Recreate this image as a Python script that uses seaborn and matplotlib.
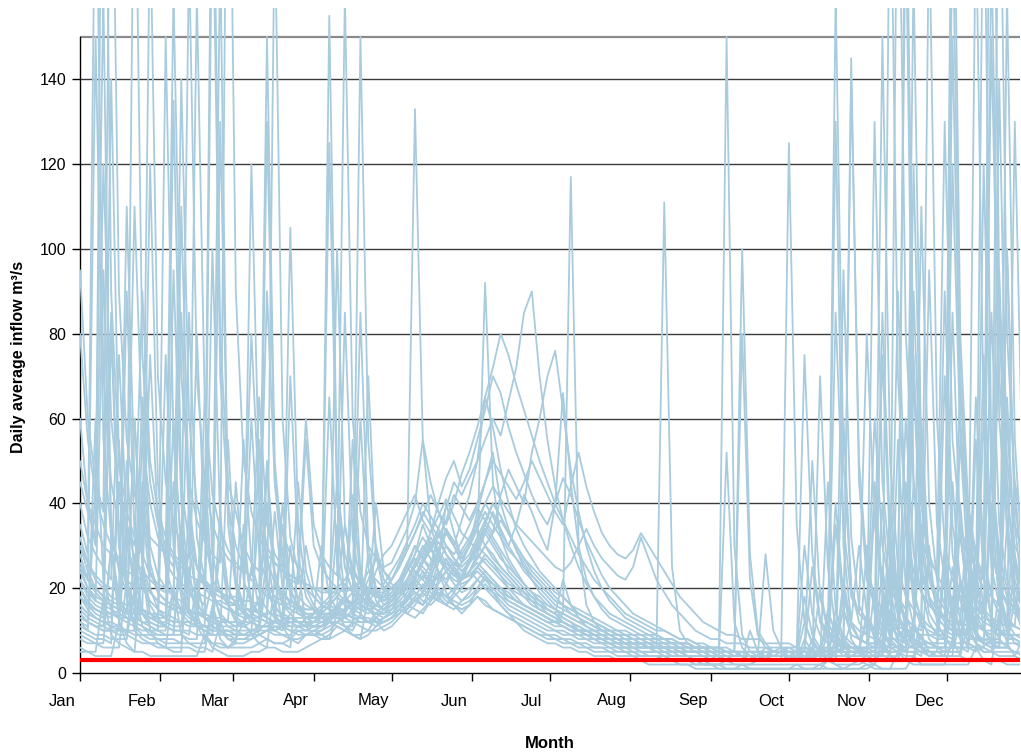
import numpy as np
import pandas as pd
import matplotlib
matplotlib.use("Agg")
import matplotlib.pyplot as plt
import seaborn as sns

# sampling days (every 3 days through the year)
days = list(range(0, 364, 3))

# daily-average inflow series (m3/s), one list per year, values read approximately
y01 = [12,10,45,160,30,18,14,60,25,16, 13,11,95,40,20,15,13,22,170,35, 20,15,13,12,48,22,16,14,12,11,
       14,30,18,15,13,55,24,18,16,15, 17,20,24,28,35,30,26,40,33,27, 30,38,45,52,40,34,29,25,22,19,
       17,15,13,12,10,9,8,8,7,6, 6,5,5,4,4,4,3,3,3,3, 3,2,2,3,2,2,2,3,4,3,
       3,4,3,8,5,4,15,9,6,12, 30,14,10,75,28,18,180,45,25,18, 15,90,35,22,16,14,200,50,28,20,16,14]
y02 = [35,28,200,70,45,35,30,110,55,40, 32,28,25,140,60,40,32,210,80,45, 38,30,26,24,90,45,33,28,25,60,
       35,28,25,23,160,60,38,30,27,25, 26,30,34,40,55,45,38,33,30,36, 42,50,65,58,48,40,34,30,27,24,
       22,20,18,16,14,13,12,11,10,9, 9,8,8,7,7,6,6,6,5,5, 5,5,4,4,4,5,4,4,4,4,
       5,6,5,5,25,12,8,40,18,12, 10,9,130,45,25,18,15,90,40,24, 18,15,220,80,40,28,22,150,60,35,25,20]
y03 = [6,5,5,18,9,7,6,5,25,10, 7,6,5,5,40,14,9,7,6,6, 8,12,9,7,6,22,11,8,7,9,
       10,9,8,14,11,9,8,18,12,10, 11,13,15,18,16,20,24,19,16,14, 16,20,23,19,16,14,12,10,9,8,
       7,7,6,6,5,5,4,4,4,3, 3,3,3,2,2,2,2,2,2,1, 1,1,1,1,1,2,1,1,1,1,
       1,1,2,1,1,1,3,2,1,2, 2,3,2,8,4,3,3,12,6,4, 5,4,18,9,6,5,30,12,8,6,5,5]
y04 = [20,16,14,13,85,30,20,16,14,120, 45,25,18,15,13,12,65,28,19,16, 14,55,26,19,150,50,28,21,18,16,
       15,14,125,40,25,19,17,16,30,22, 20,22,25,30,27,24,33,28,25,23, 26,30,92,45,32,27,24,21,19,17,
       15,14,12,11,10,9,8,8,7,7, 6,6,5,5,5,4,4,4,4,3, 3,3,3,52,12,6,4,3,3,3,
       3,4,3,3,6,4,4,130,30,12, 8,7,6,40,16,10,8,165,50,24, 16,13,11,70,30,18,14,12,95,35,20,15]
y05 = [9,8,7,7,30,12,9,8,7,7, 6,6,20,9,7,6,6,5,12,8, 7,7,8,9,10,12,11,14,16,13,
       14,16,18,20,22,25,21,19,24,28, 30,34,38,42,36,33,40,46,50,44, 48,55,62,70,66,58,52,47,42,38,
       35,40,46,42,36,31,27,23,20,18, 16,14,13,12,11,10,9,8,8,7, 6,6,5,5,5,4,4,4,4,4,
       4,4,5,4,4,5,6,5,9,7, 6,12,9,7,25,14,10,9,35,18, 13,11,10,22,15,12,60,25,16,13,11,10]
y06 = [14,12,11,10,10,45,20,14,12,11, 10,75,30,18,14,12,11,10,130,40, 22,16,14,13,12,12,35,18,14,13,
       12,12,13,16,14,42,22,17,15,14, 16,18,20,23,26,29,33,30,28,31, 35,39,36,33,42,48,44,40,52,60,
       70,76,62,48,38,30,24,20,17,15, 13,12,11,10,9,8,8,7,7,6, 6,5,5,5,4,4,4,4,5,4,
       4,5,4,18,9,6,5,5,22,11, 8,7,45,20,12,10,9,8,110,40, 22,16,13,12,11,180,60,30,20,16,14,12]
y07 = [60,40,30,250,90,50,38,32,28,180, 70,45,36,30,27,160,65,42,34,29, 26,24,80,40,30,26,24,22,21,55,
       30,25,22,20,19,20,18,17,40,24, 21,20,22,25,28,32,29,26,24,22, 24,27,30,28,25,23,21,19,17,16,
       14,13,12,11,10,10,9,8,8,7, 7,6,6,6,5,5,5,4,4,4, 4,4,3,3,3,3,3,4,3,3,
       3,3,4,12,7,5,4,160,50,20, 14,12,60,30,20,16,200,70,40,28, 23,20,120,55,35,27,23,250,90,50,35,28]
y08 = [18,15,13,12,11,10,50,22,15,13, 12,11,10,28,15,12,11,100,35,20, 16,14,13,18,15,13,12,70,28,18,
       15,13,12,12,14,17,85,30,20,17, 18,20,17,22,26,30,24,21,19,22, 26,30,34,31,28,24,22,20,18,16,
       15,14,22,16,13,11,10,9,8,8, 7,7,6,6,6,5,5,5,4,4, 4,4,4,3,3,3,3,3,3,3,
       3,3,3,4,3,3,10,6,4,4, 5,4,20,10,7,6,5,70,25,14, 11,9,8,40,18,12,10,9,140,45,22,15]
y09 = [25,20,17,95,35,24,19,17,15,14, 14,13,60,27,19,16,14,13,12,12, 45,22,16,14,13,12,12,105,35,20,
       16,14,13,13,12,12,60,25,17,15, 14,16,18,21,19,17,22,27,24,20, 22,25,28,26,23,20,18,16,15,14,
       13,12,14,117,30,16,12,10,9,8, 8,7,7,6,6,111,25,10,7,6, 5,5,4,4,4,4,3,3,3,3,
       3,3,3,3,8,5,4,3,3,4, 4,4,3,16,8,6,5,45,20,12, 9,8,7,7,30,14,10,8,8,60,25,15]
y10 = [10,9,8,8,7,55,18,11,9,8, 8,7,7,7,25,11,8,7,7,6, 7,35,14,9,8,7,7,8,10,9,
       9,9,10,12,11,10,14,12,11,13, 15,17,14,16,19,22,18,16,15,17, 19,22,20,18,16,14,13,12,11,10,
       9,9,8,8,7,7,6,6,6,5, 5,5,4,4,4,4,3,3,3,3, 3,3,3,150,30,9,5,4,3,3,
       3,3,3,3,4,3,3,3,20,8, 5,4,4,4,15,7,5,5,4,30, 12,8,6,6,5,25,10,7,6,6,18,9]
y11 = [30,24,20,18,140,50,30,24,21,19, 17,16,15,14,85,32,22,18,16,15, 14,13,13,40,20,15,14,13,12,12,
       11,11,12,35,18,14,13,12,12,13, 14,15,17,19,17,16,18,21,19,17, 18,20,22,20,18,16,15,14,13,12,
       11,10,10,9,9,8,8,7,7,6, 6,6,5,5,5,5,4,4,4,4, 4,3,3,3,3,3,10,5,4,3,
       3,125,35,12,7,5,4,4,60,20, 12,9,8,150,50,25,18,15,13,95, 35,22,17,15,14,13,75,30,20,17,15,14]
y12 = [40,32,28,25,22,75,35,27,24,22, 20,19,135,45,30,25,22,20,19,18, 17,17,60,28,21,18,17,16,15,30,
       20,17,16,15,15,16,18,17,16,15, 16,18,21,24,22,20,26,30,27,24, 26,29,33,38,34,30,27,24,22,20,
       18,16,15,14,13,12,11,10,10,9, 9,8,8,8,7,7,7,6,6,6, 6,5,5,5,5,4,4,4,4,5,
       6,5,5,30,14,9,7,85,35,18, 14,80,35,22,18,210,80,45,32,26, 24,130,55,35,28,25,23,170,70,40,30,26]
y13 = [15,13,12,11,30,16,13,12,11,10, 10,10,45,20,14,12,11,11,10,10, 9,9,10,10,130,45,25,19,16,14,
       13,12,12,100,35,22,18,16,15,14, 15,18,22,26,24,22,28,33,30,26, 28,32,36,40,37,33,29,26,23,21,
       19,17,16,14,13,12,11,10,9,9, 8,8,7,7,7,6,6,6,5,5, 5,5,4,4,4,4,4,4,4,4,
       4,4,4,4,5,4,4,5,6,5, 5,6,5,5,40,18,11,8,7,6, 6,6,45,20,12,9,8,7,7,100,35,18]
y14 = [12,11,60,22,15,13,12,11,10,10, 9,9,9,30,14,11,10,9,9,55, 22,14,12,11,11,10,11,12,11,10,
       11,12,13,15,17,19,22,20,18,21, 24,27,31,35,40,37,34,39,45,42, 46,50,55,60,56,64,72,85,90,70,
       55,44,36,30,25,21,18,16,14,13, 12,11,10,9,9,8,8,7,7,6, 6,6,5,5,5,5,4,4,4,4,
       4,4,4,5,4,4,4,12,7,5, 5,5,4,4,20,10,7,6,5,5, 5,25,12,8,7,6,6,50,20,12,9,8]
y15 = [22,18,16,15,14,13,90,32,20,17, 15,14,13,12,12,11,40,19,14,12, 11,11,12,11,28,16,13,12,12,11,
       12,13,155,45,25,19,16,15,14,14, 15,17,19,22,20,18,17,21,25,22, 24,26,24,22,20,18,17,16,15,14,
       13,12,11,10,10,9,9,8,8,7, 7,6,6,6,5,5,5,5,4,4, 4,4,4,3,3,3,3,3,3,3,
       3,3,3,3,3,70,25,10,6,5, 5,4,4,4,4,55,20,11,8,7, 6,6,6,35,14,9,7,7,6,160,55,25]
y16 = [80,55,42,35,30,27,25,210,75,45, 35,30,27,25,23,22,21,20,19,18, 18,17,17,16,40,22,18,17,16,15,
       15,14,14,13,13,14,16,15,14,13, 14,16,15,17,19,22,20,18,17,16, 17,19,21,19,17,15,14,13,12,11,
       10,10,9,9,8,8,7,7,7,6, 6,6,5,5,5,5,4,4,4,4, 4,3,3,3,3,3,3,3,3,3,
       3,3,3,3,3,3,4,3,3,3, 3,4,4,10,6,5,4,4,14,8, 6,5,5,5,20,10,7,6,6,35,15,10]
y17 = [28,22,19,17,16,15,14,60,26,19, 17,16,15,110,40,25,20,18,16,15, 14,14,13,13,50,24,17,15,14,13,
       13,14,16,18,16,15,14,28,19,16, 17,19,22,26,30,27,24,22,25,29, 32,36,40,37,33,30,35,42,38,33,
       29,40,66,45,30,22,18,15,13,12, 11,10,9,9,8,8,7,7,6,6, 6,5,5,5,5,100,28,10,7,5,
       5,5,5,6,5,5,5,35,15,9, 8,7,7,85,32,18,13,11,10,180, 60,30,22,18,16,15,14,85,35,22,18,16]
y18 = [8,7,7,6,6,6,22,10,8,7, 7,6,6,6,6,5,5,15,8,6, 6,6,6,7,8,7,7,6,25,11,
       9,8,8,9,10,12,11,10,10,11, 12,14,16,15,14,17,20,18,16,15, 16,18,16,15,14,13,12,11,10,9,
       9,8,8,7,7,6,6,6,5,5, 5,4,4,4,4,3,3,3,3,3, 2,2,2,2,2,2,2,2,2,2,
       2,2,2,2,2,2,3,2,2,2, 3,2,2,6,4,3,3,3,9,5, 4,4,4,4,12,7,5,5,4,4,4,8]
y19 = [45,38,32,120,60,42,35,30,90,50, 38,32,28,26,170,70,45,35,30,27, 25,24,23,65,35,28,25,23,22,21,
       20,19,19,45,28,22,20,19,18,18, 19,21,24,28,32,29,27,25,23,22, 24,28,33,30,27,25,23,21,19,18,
       16,15,14,13,12,11,10,10,9,8, 8,8,7,7,6,6,6,5,5,5, 5,4,4,4,4,4,4,3,3,3,
       3,3,4,3,3,3,3,8,5,4, 4,30,14,9,7,6,5,120,45,22, 16,13,11,10,9,65,28,18,14,12,11,10]
y20 = [16,14,13,12,12,11,35,18,14,12, 11,11,10,10,9,22,13,11,10,9, 9,9,9,55,22,14,11,10,9,9,
       9,10,12,11,10,9,9,10,13,12, 13,15,18,21,24,20,18,16,19,23, 27,31,35,32,29,26,23,21,19,17,
       15,14,12,11,10,9,8,7,6,6, 5,5,4,4,4,3,3,3,3,2, 2,2,2,1,1,1,1,1,1,1,
       1,1,1,1,1,2,1,1,1,1, 1,2,1,1,1,5,3,2,2,2, 2,2,8,4,3,3,3,2,15,7,4,3]
y21 = [20,17,15,14,13,45,22,16,14,13, 12,12,11,11,30,17,13,12,11,11, 11,12,14,13,12,180,60,32,24,20,
       18,16,15,14,14,13,13,70,28,19, 17,18,20,22,26,30,34,30,27,25, 27,30,28,26,24,22,20,18,17,15,
       14,13,12,11,10,10,9,9,8,8, 7,7,7,6,6,6,5,5,5,5, 4,4,4,4,4,4,3,3,3,3,
       3,3,3,3,3,3,45,15,8,6, 5,5,5,25,12,8,7,6,60,25, 15,12,10,9,9,8,120,45,25,18,15,13]
y22 = [14,12,11,10,10,9,9,28,14,11, 10,9,9,9,8,8,48,20,13,11, 10,9,9,9,10,11,10,30,16,12,
       11,11,13,16,14,13,12,12,14,16, 18,21,25,22,20,24,29,34,30,27, 30,34,30,27,25,23,21,19,17,16,
       15,14,13,12,11,10,10,9,9,8, 8,7,7,7,6,6,6,6,5,5, 5,5,5,4,4,4,4,4,6,5,
       5,4,4,4,4,4,4,4,4,4, 4,5,5,4,200,70,35,24,19,16, 14,13,12,12,40,20,15,13,12,11,11,35]
y23 = [18,16,15,14,80,30,20,17,15,14, 13,150,55,30,22,18,16,190,70,40, 30,25,22,20,18,17,16,15,45,24,
       18,16,15,14,14,13,13,13,12,12, 13,14,16,18,21,19,17,16,18,20, 22,25,23,21,19,17,16,15,14,13,
       12,11,11,10,9,9,8,8,7,7, 7,6,6,6,5,5,5,5,4,4, 4,4,4,4,3,3,3,3,3,3,
       3,3,3,3,3,3,3,3,3,3, 3,3,3,3,4,3,10,6,5,4, 4,4,4,22,10,7,6,5,5,5,5,4]
y24 = [11,10,9,9,8,8,8,20,11,9, 8,8,8,7,7,7,7,16,10,8, 8,8,9,10,12,10,9,9,11,13,
       14,15,17,19,17,16,20,24,22,20, 22,25,29,33,37,42,38,35,40,47, 52,58,65,72,80,75,68,62,56,50,
       45,40,36,32,28,25,22,20,18,16, 14,13,12,11,10,10,9,8,8,7, 7,6,6,6,5,5,5,5,5,4,
       4,4,4,4,5,4,4,4,4,5, 5,4,4,4,4,4,14,8,6,5, 5,5,5,5,18,9,7,6,6,6,28,12]
y25 = [25,22,150,55,32,25,22,20,65,30, 23,20,18,17,16,80,32,22,19,17, 16,15,15,14,14,38,20,16,15,14,
       14,14,65,26,18,16,15,15,16,18, 20,22,26,24,22,26,31,28,26,24, 26,28,26,24,22,20,19,18,16,15,
       14,13,12,11,11,10,9,9,8,8, 7,7,7,6,6,6,5,5,5,5, 5,5,4,4,4,4,4,4,4,4,
       4,4,4,4,4,6,5,4,95,32, 16,12,10,9,8,8,35,16,11,10, 9,70,28,17,13,11,10,10,9,9,45,20]
y26 = [16,14,13,12,11,11,10,10,25,14, 12,11,10,10,10,9,9,9,38,16, 12,11,10,10,10,10,11,13,12,11,
       12,14,16,18,16,15,17,20,18,17, 19,22,26,30,27,25,29,34,31,28, 31,35,40,44,41,38,35,33,31,29,
       27,25,24,26,30,34,30,27,25,23, 22,25,32,27,22,19,16,14,12,10, 9,8,8,7,7,7,6,6,6,6,
       6,6,6,5,5,5,12,8,6,6, 6,5,5,18,9,7,6,6,6,5, 5,5,5,12,7,6,5,5,20,10,7,6]
y27 = [32,26,22,20,18,17,16,16,45,24, 19,17,16,15,15,14,14,13,13,12, 12,30,17,14,13,12,12,11,11,11,
       11,11,12,12,11,11,25,15,13,12, 13,15,17,20,23,21,19,18,20,22, 24,22,20,19,18,17,16,15,14,13,
       12,12,11,10,10,9,9,8,8,7, 7,7,6,6,6,6,5,5,5,5, 5,4,4,4,4,4,4,4,28,10,
       6,5,5,75,28,13,9,7,6,140, 50,25,18,15,13,12,60,28,19,16, 14,13,150,60,32,24,20,18,16,100,40,24]
y28 = [5,5,4,4,4,12,7,5,5,4, 4,4,4,4,4,4,9,6,5,4, 4,4,5,5,6,6,5,5,5,6,
       7,8,9,11,10,9,8,9,11,12, 13,15,14,13,15,17,19,17,16,15, 16,18,17,15,14,13,12,11,10,9,
       8,8,7,7,6,6,5,5,5,4, 4,4,3,3,3,3,3,2,2,2, 2,2,1,1,1,1,1,1,1,1,
       1,1,1,1,1,1,1,1,1,1, 1,1,2,1,1,1,1,4,2,2, 2,2,2,2,2,6,3,3,3,2,2,2]
y29 = [22,19,17,16,15,14,13,13,12,12, 11,11,20,14,12,11,10,10,10,10, 9,9,9,10,22,13,11,10,10,10,
       10,10,11,12,13,15,150,55,28,20, 18,20,22,25,29,33,37,41,37,33, 31,29,35,40,37,33,30,27,24,22,
       20,18,16,15,14,13,12,11,10,9, 9,8,8,7,7,7,6,6,6,5, 5,5,5,5,4,4,4,4,4,4,
       4,4,4,4,4,4,4,5,5,5, 5,5,5,5,5,5,5,5,5,5, 5,5,6,6,6,55,22,13,10,8,8,7]
y30 = [30,26,23,21,20,19,110,45,28,23, 21,20,19,85,35,25,21,19,18,17, 16,16,120,45,27,21,19,17,16,15,
       15,14,14,14,85,32,21,17,16,15, 16,18,20,23,27,31,28,25,23,22, 24,27,30,33,36,33,30,27,25,23,
       21,19,18,16,15,14,13,12,11,10, 10,9,9,8,8,8,7,7,7,6, 6,6,6,5,5,5,5,5,5,5,
       5,5,5,5,50,18,10,8,7,6, 6,6,6,6,28,13,9,8,7,7, 7,30,14,10,8,8,7,7,85,32,18,13]
y31 = [50,40,35,30,28,26,24,23,22,75, 35,26,23,21,20,19,18,17,17,16, 16,15,15,14,14,14,13,13,13,13,
       13,13,13,14,15,17,16,15,14,14, 15,16,18,17,16,18,21,24,21,19, 20,22,24,22,20,19,17,16,15,14,
       13,12,12,11,10,10,9,9,8,8, 7,7,7,6,6,6,6,5,5,5, 5,5,4,4,4,4,4,4,4,4,
       4,4,4,4,4,4,4,4,4,4, 5,14,8,6,5,5,45,20,12,9, 8,8,180,70,38,27,22,20,210,80,45,35]
y32 = [13,12,11,11,10,10,10,9,9,9, 9,9,9,35,15,11,10,9,9,9, 8,8,8,9,10,9,9,8,8,9,
       10,11,13,15,18,16,15,14,16,19, 22,26,30,133,55,35,28,25,23,26, 30,34,38,35,32,29,27,25,23,21,
       19,17,16,15,14,13,12,11,10,10, 9,9,8,8,8,7,7,7,6,6, 6,6,6,5,5,5,5,5,5,5,
       5,5,5,5,5,5,5,6,5,5, 5,5,5,5,5,22,10,7,6,6, 6,6,6,6,6,6,6,40,16,10,8,7]
y33 = [95,60,45,38,220,90,55,42,36,32, 30,28,160,70,45,36,31,28,26,240, 90,50,38,32,28,26,24,23,22,21,
       20,20,19,19,35,24,21,20,19,19, 20,22,24,27,25,23,22,24,26,24, 23,25,27,25,23,21,20,19,18,17,
       16,15,14,13,12,12,11,10,10,9, 9,8,8,8,7,7,7,6,6,6, 6,6,5,5,5,5,5,5,5,5,
       5,5,5,5,5,20,10,7,6,6, 6,6,6,6,6,90,35,18,13,11, 10,10,9,9,9,30,15,11,10,9,9,9]
y34 = [18,16,15,14,14,13,13,12,40,20, 15,13,12,12,11,11,11,10,10,10, 10,10,10,11,11,12,40,20,15,13,
       13,14,16,18,21,19,18,22,27,24, 22,25,29,33,38,35,32,36,42,39, 36,40,45,50,47,44,41,45,50,46,
       42,38,35,44,52,44,38,33,30,28, 27,29,33,30,27,24,21,18,16,14, 12,11,10,9,9,8,8,8,7,7,
       7,7,6,6,6,6,6,6,15,9, 8,7,7,7,6,6,6,12,8,7, 7,7,25,12,9,8,8,8,7,7,7,7]
y35 = [24,20,18,17,16,15,14,14,55,26, 19,17,16,15,14,14,13,13,12,12, 12,12,25,15,13,12,12,12,12,12,
       12,13,14,16,18,16,15,17,19,18, 17,19,21,19,18,20,23,26,24,22, 23,25,23,21,20,18,17,16,15,14,
       13,12,12,11,10,10,9,9,8,8, 7,7,7,6,6,6,6,5,5,5, 5,5,5,5,5,80,22,9,6,5,
       5,5,5,5,5,5,5,5,5,145, 45,22,16,13,12,11,10,10,9,9, 9,9,85,32,18,14,12,11,10,10,130,45]
y36 = [26,22,20,18,17,16,15,14,14,13, 13,13,12,12,12,11,11,11,30,16, 13,12,12,11,11,11,11,11,11,11,
       11,11,12,14,13,12,12,12,13,15, 17,20,18,17,19,23,27,24,22,21, 22,24,22,21,19,18,17,16,15,14,
       13,12,12,11,10,10,9,9,8,8, 7,7,7,6,6,6,5,5,5,5, 5,4,4,4,4,4,4,4,4,4,
       4,4,4,4,4,4,4,15,8,6, 6,5,40,18,11,9,8,75,30,17, 13,11,10,55,24,16,13,12,11,65,28,18]

all_series = [y01, y02, y03, y04, y05, y06, y07, y08, y09, y10, y11, y12,
              y13, y14, y15, y16, y17, y18, y19, y20, y21, y22, y23, y24,
              y25, y26, y27, y28, y29, y30, y31, y32, y33, y34, y35, y36]
years = [str(1961 + i) for i in range(len(all_series))]

threshold = 3.0
month_names = ["Jan", "Feb", "Mar", "Apr", "May", "Jun", "Jul", "Aug", "Sep", "Oct", "Nov", "Dec"]
month_starts = [0, 31, 59, 90, 120, 151, 181, 212, 243, 273, 304, 334]
y_ticks = [0, 20, 40, 60, 80, 100, 120, 140]

rows = []
for yr, vals in zip(years, all_series):
    for d, v in zip(days, vals):
        rows.append((yr, d, v))
df = pd.DataFrame(rows, columns=["year", "day", "flow"])

sns.set_style("white")
plt.rcParams["font.family"] = ["Liberation Sans", "DejaVu Sans"]
plt.rcParams["text.color"] = "black"
plt.rcParams["xtick.color"] = "black"
plt.rcParams["ytick.color"] = "black"
plt.rcParams["axes.labelcolor"] = "black"

fig = plt.figure(figsize=(10.21, 7.53), dpi=100)
ax = fig.add_axes([80 / 1021, 1 - 673 / 753, 940 / 1021, 665 / 753])

sns.lineplot(data=df, x="day", y="flow", units="year", estimator=None,
             color="#A8CBDE", lw=1.3, ax=ax, zorder=3)
ax.axhline(threshold, color="#FF0000", lw=3.0, zorder=5)

top = 150 * 665 / 636

for t in y_ticks[1:]:
    ax.axhline(t, color="#3a3a3a", lw=1.0, zorder=1)
ax.axhline(150, color="#8a8a8a", lw=1.6, zorder=1)

for s in ["top", "right"]:
    ax.spines[s].set_visible(False)
ax.spines["left"].set_bounds(0, 150)
ax.spines["left"].set_color("black")
ax.spines["bottom"].set_color("black")
ax.spines["left"].set_linewidth(1.0)
ax.spines["bottom"].set_linewidth(1.0)

ax.set_yticks(y_ticks)
ax.set_yticklabels([str(t) for t in y_ticks])
ax.tick_params(axis="y", direction="out", length=6, width=1, color="black",
               labelsize=11.5, pad=4, left=True, labelcolor="black")

# month tick marks at month starts; labels sit a week before each mark
ax.set_xticks(month_starts)
ax.set_xticklabels([])
ax.tick_params(axis="x", which="major", direction="out", length=6, width=1,
               color="black", bottom=True)
ax.set_xlim(0, 362)
ax.set_ylim(0, top)

xtrans = ax.get_xaxis_transform()
label_y = -(701 - 673) / 665
for m, name in zip(month_starts, month_names):
    ax.text(m - 7.0, label_y, name, transform=xtrans, ha="center", va="center",
            fontsize=12, color="black", clip_on=False)

ax.set_xlabel("")
ax.set_ylabel("")
fig.text(550 / 1021, 1 - 743 / 753, "Month", ha="center", va="center",
         fontsize=12, fontweight="bold", color="black")
fig.text(19 / 1021, 1 - 357 / 753, "Daily average inflow m³/s", ha="center",
         va="center", rotation=90, fontsize=11.5, fontweight="bold", color="black")

fig.savefig("out.png", dpi=100)
